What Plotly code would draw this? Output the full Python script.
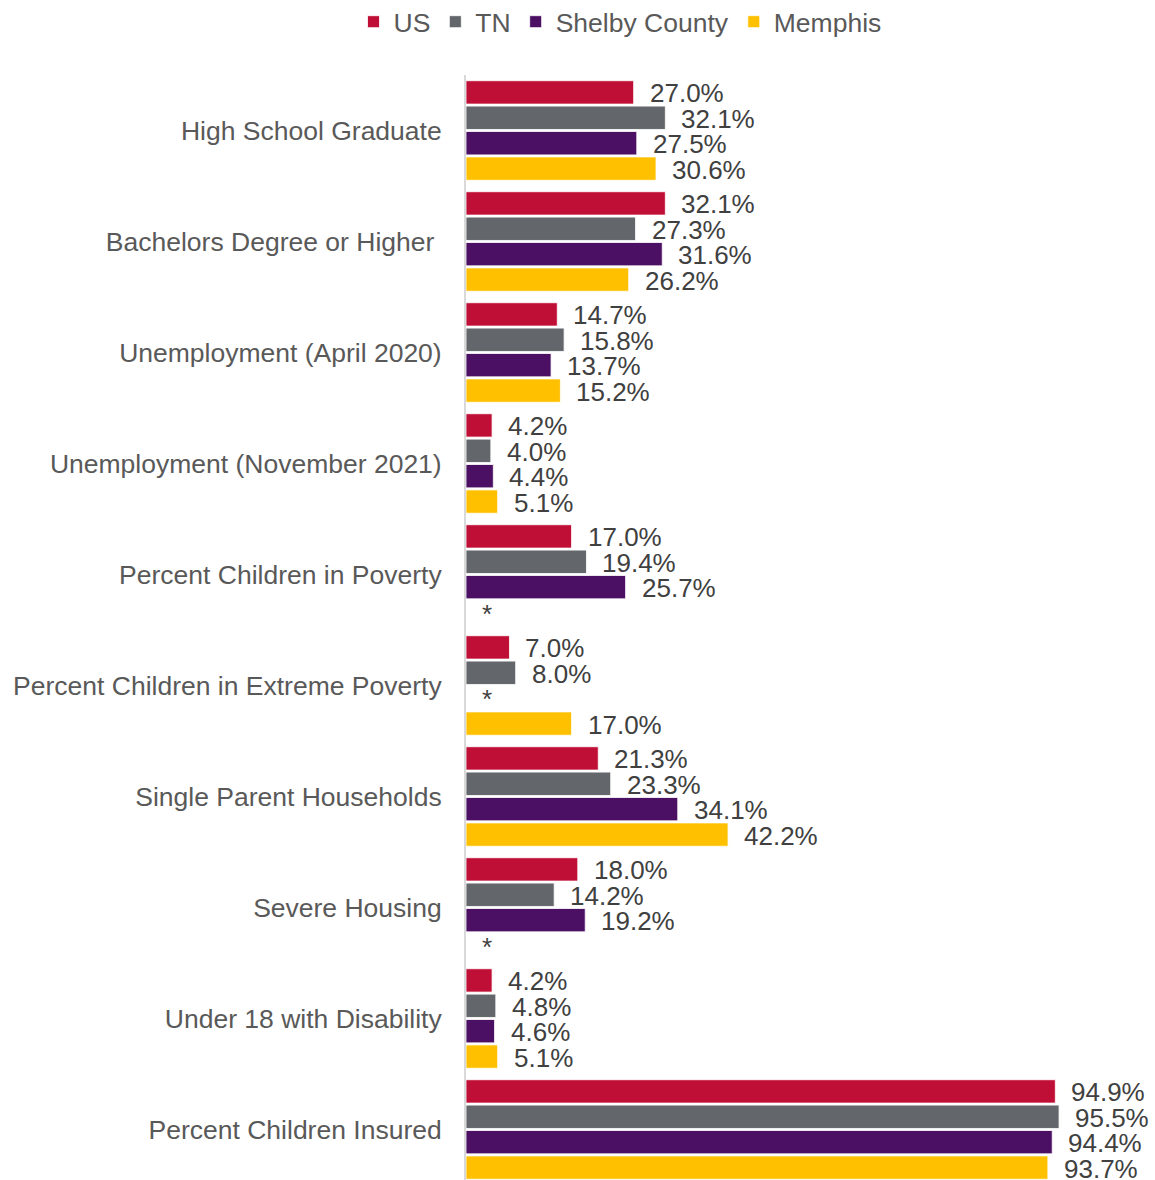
import plotly.graph_objects as go

# Indicators shown on the vertical axis (top to bottom)
categories = [
    "High School Graduate",
    "Bachelors Degree or Higher\u00a0",
    "Unemployment (April 2020)",
    "Unemployment (November 2021)",
    "Percent Children in Poverty",
    "Percent Children in Extreme Poverty",
    "Single Parent Households",
    "Severe Housing",
    "Under 18 with Disability",
    "Percent Children Insured",
]

# Percent values per geography (None = not available, labelled "*")
us = [27.0, 32.1, 14.7, 4.2, 17.0, 7.0, 21.3, 18.0, 4.2, 94.9]
tn = [32.1, 27.3, 15.8, 4.0, 19.4, 8.0, 23.3, 14.2, 4.8, 95.5]
shelby = [27.5, 31.6, 13.7, 4.4, 25.7, None, 34.1, 19.2, 4.6, 94.4]
memphis = [30.6, 26.2, 15.2, 5.1, None, 17.0, 42.2, None, 5.1, 93.7]

series_names = ["US", "TN", "Shelby County", "Memphis"]
series_values = [us, tn, shelby, memphis]
series_colors = ["#C00F37", "#63666A", "#4B0F63", "#FFC000"]

FONT = "Liberation Sans, Arial, sans-serif"
BARGAP = 0.085

fig = go.Figure()
for name, vals, color in zip(series_names, series_values, series_colors):
    fig.add_trace(go.Bar(
        name=name,
        y=categories,
        x=vals,
        orientation="h",
        marker=dict(color=color, line=dict(color="white", width=0.8)),
        hoverinfo="skip",
    ))

# Value labels to the right of each bar; "*" where data is missing
n_series = len(series_values)
slot = (1 - BARGAP) / n_series
annotations = []
for i, vals in enumerate(series_values):
    for j, v in enumerate(vals):
        annotations.append(dict(
            x=0 if v is None else v,
            y=j + (i - (n_series - 1) / 2) * slot,
            xref="x", yref="y",
            text="*" if v is None else f"{v:.1f}%",
            showarrow=False,
            xanchor="left", yanchor="middle",
            xshift=14, yshift=-1,
            font=dict(family=FONT, size=26, color="#404040"),
        ))

fig.update_layout(
    width=1155, height=1180,
    margin=dict(l=466, r=68, t=75, b=0, autoexpand=False),
    paper_bgcolor="white", plot_bgcolor="white",
    barmode="group", bargap=BARGAP, bargroupgap=0.08,
    font=dict(family=FONT, color="#595959"),
    showlegend=True,
    legend=dict(
        orientation="h",
        x=0.248, xanchor="center",
        y=1.048, yanchor="middle",
        font=dict(family=FONT, size=26.5, color="#595959"),
        itemclick=False, itemdoubleclick=False,
        itemwidth=30,
        traceorder="normal",
    ),
    annotations=annotations,
)

fig.update_xaxes(
    range=[0, 100],
    showgrid=False, zeroline=False, showticklabels=False, showline=False,
    ticks="", automargin=False,
)
fig.update_yaxes(
    type="category",
    categoryorder="array", categoryarray=categories,
    range=[9.455, -0.5],
    showgrid=False, zeroline=False,
    showline=True, linecolor="#D9D9D9", linewidth=2,
    ticks="", ticklabelstandoff=17, automargin=False,
    tickfont=dict(family=FONT, size=26.5, color="#595959"),
)

fig.write_html("out.html")
